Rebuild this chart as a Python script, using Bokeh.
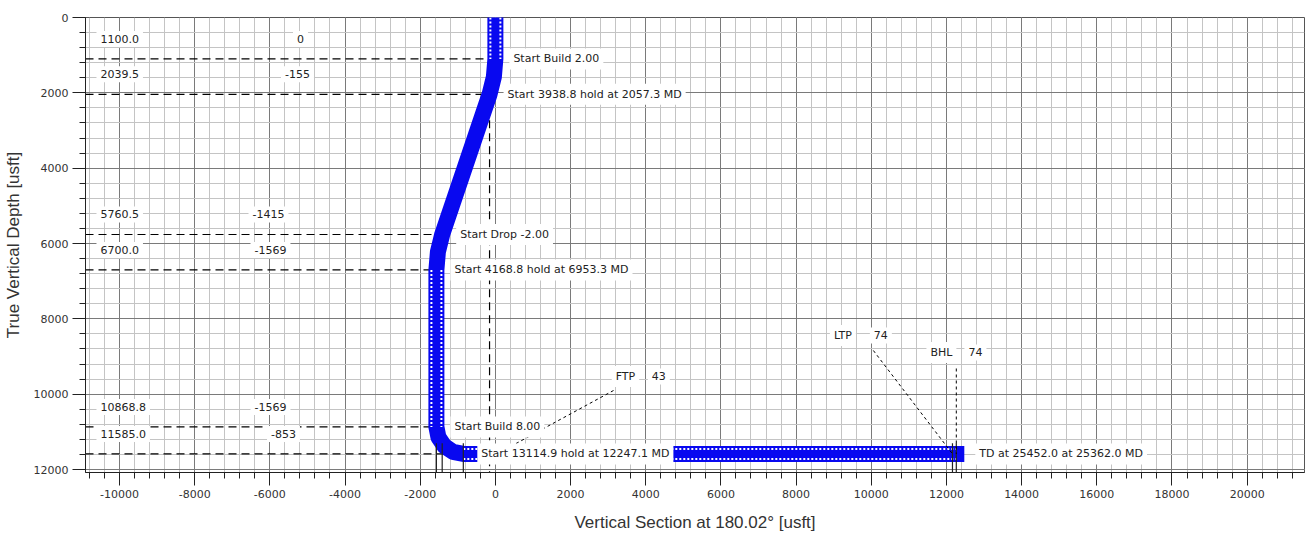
from bokeh.plotting import figure
from bokeh.models import Range1d, FixedTicker
from bokeh.core.properties import value
from bokeh.embed import file_html
from bokeh.resources import INLINE

# ---------------- data ----------------
# well path survey stations (vertical section, true vertical depth) in usft
survey_vs = [0, 0, -40, -155, -1415, -1529, -1569, -1569, -1515, -1359, -1127, -853, 12262]
survey_tvd = [0, 1100.0, 1576, 2039.5, 5760.5, 6224, 6700.0, 10868.8, 11143, 11375, 11530, 11585.0, 11585.0]

# key section points
key_tvd = [1100.0, 2039.5, 5760.5, 6700.0, 10868.8, 11585.0]
key_vs = [0, -155, -1415, -1569, -1569, -853]
key_notes = [
    "Start Build 2.00",
    "Start 3938.8 hold at 2057.3 MD",
    "Start Drop -2.00",
    "Start 4168.8 hold at 6953.3 MD",
    "Start Build 8.00",
    "Start 13114.9 hold at 12247.1 MD",
]
td_vs = 12262
td_tvd = 11585.0
td_note = "TD at 25452.0 at 25362.0 MD"

# targets
target_names = ["FTP", "LTP", "BHL"]
target_ids = ["43", "74", "74"]
target_vs = [43, 12160, 12262]
target_tvd = [11585.0, 11585.0, 11585.0]

x_ticks = [-10000, -8000, -6000, -4000, -2000, 0, 2000, 4000, 6000, 8000,
           10000, 12000, 14000, 16000, 18000, 20000]
y_ticks = [0, 2000, 4000, 6000, 8000, 10000, 12000]

# ---------------- layout / style ----------------
X_START, X_END = -10904, 21525
Y_END = 12079
BLUE = "#0808f0"
TXT = "#222222"
SMALL = "DejaVu Sans"
BIG = "Liberation Sans"

tvd_label_x = -10612                                   # left column TVD values
vs_label_x = [-5185, -5265, -6036, -5983, -5983, -5637]  # left column VS values (centres)
left_label_dy = -20                                    # px above each reference line
target_label_x = [3461, 9244, 11866]
target_id_x = [4348, 10255, 12771]
target_label_y = [9530, 8442, 8893]
leader_x0 = [3143, 10055, 12262]
leader_y0 = [9902, 8840, 9318]
bottom_vert_top = 11300

p = figure(
    frame_width=1219, frame_height=455,
    x_range=Range1d(X_START, X_END), y_range=Range1d(Y_END, 0),
    output_backend="svg", toolbar_location=None,
    min_border_left=77, min_border_right=2, min_border_top=17, min_border_bottom=56,
    background_fill_color="white", border_fill_color="white",
)
p.outline_line_color = "#555555"

minor_x = list(range(-10800, 21600, 400))
minor_y = list(range(0, 12400, 400))
xt = FixedTicker(ticks=x_ticks, minor_ticks=minor_x)
yt = FixedTicker(ticks=y_ticks, minor_ticks=minor_y)
p.xaxis.ticker = xt
p.yaxis.ticker = yt
p.xgrid.ticker = xt
p.ygrid.ticker = yt
p.xaxis.major_label_overrides = {t: str(t) for t in x_ticks}
p.yaxis.major_label_overrides = {t: str(t) for t in y_ticks}
for g in (p.xgrid[0], p.ygrid[0]):
    g.grid_line_color = "#7a7a7a"
    g.grid_line_width = 1
    g.minor_grid_line_color = "#c4c4c4"
    g.minor_grid_line_width = 1

for ax in (p.xaxis[0], p.yaxis[0]):
    ax.axis_line_color = "#222222"
    ax.major_tick_line_color = "#222222"
    ax.minor_tick_line_color = "#222222"
    ax.major_tick_in = 0
    ax.minor_tick_in = 0
    ax.major_tick_out = 13
    ax.minor_tick_out = 6
    ax.major_label_text_font = SMALL
    ax.major_label_text_font_size = "11px"
    ax.major_label_text_color = "#333333"
    ax.axis_label_text_font = BIG
    ax.axis_label_text_font_size = "17px"
    ax.axis_label_text_font_style = "normal"
    ax.axis_label_text_color = "#333333"

p.xaxis.axis_label = "Vertical Section at 180.02\u00b0 [usft]"
p.yaxis.axis_label = "True Vertical Depth [usft]"
p.xaxis.major_label_standoff = 4
p.xaxis.axis_label_standoff = 12
p.yaxis.major_label_standoff = 4
p.yaxis.axis_label_standoff = 8

# reference lines
n = len(key_tvd)
p.segment(x0=[X_START] * n, y0=key_tvd, x1=key_vs, y1=key_tvd,
          line_color="black", line_dash="8 5", line_width=1.2)
p.segment(x0=[key_vs[1]], y0=[key_tvd[1]], x1=[key_vs[1]], y1=[Y_END],
          line_color="black", line_dash="8 5", line_width=1.2)

# well path
p.line(survey_vs, survey_tvd, line_color=BLUE, line_width=16,
       line_cap="square", line_join="round")
for i in range(len(survey_vs) - 1):
    if survey_vs[i] == survey_vs[i + 1] or survey_tvd[i] == survey_tvd[i + 1]:
        xs = [survey_vs[i], survey_vs[i + 1]]
        ys = [survey_tvd[i], survey_tvd[i + 1]]
        p.line(xs, ys, line_color="white", line_width=12, line_dash="2 2")
        p.line(xs, ys, line_color=BLUE, line_width=8)

# short verticals to the axis
vert_x = [key_vs[3], key_vs[2], key_vs[5], target_vs[1], target_vs[2]]
p.segment(x0=vert_x, y0=[bottom_vert_top] * len(vert_x), x1=vert_x, y1=[Y_END] * len(vert_x),
          line_color="#222222", line_width=1.2)

# target leaders
p.segment(x0=leader_x0, y0=leader_y0, x1=target_vs, y1=target_tvd,
          line_color="black", line_dash="3 3", line_width=1)

common = dict(text_font=value(SMALL), text_font_size="11px", text_color=TXT,
              text_baseline="middle", background_fill_color="white", padding=4)

# left column values
p.text(x=[tvd_label_x] * n, y=key_tvd, text=[f"{t:.1f}" for t in key_tvd],
       text_align="left", y_offset=left_label_dy, **common)
p.text(x=vs_label_x, y=key_tvd, text=[str(v) for v in key_vs],
       text_align="center", y_offset=left_label_dy, **common)

# path annotations
p.text(x=key_vs, y=key_tvd, text=key_notes, text_align="left", x_offset=14, **common)
p.text(x=[td_vs], y=[td_tvd], text=[td_note], text_align="left", x_offset=19, **common)

# target labels
p.text(x=target_label_x, y=target_label_y, text=target_names, text_align="center", **common)
p.text(x=target_id_x, y=target_label_y, text=target_ids, text_align="center", **common)

open("out.html", "w").write(file_html(p, INLINE))
